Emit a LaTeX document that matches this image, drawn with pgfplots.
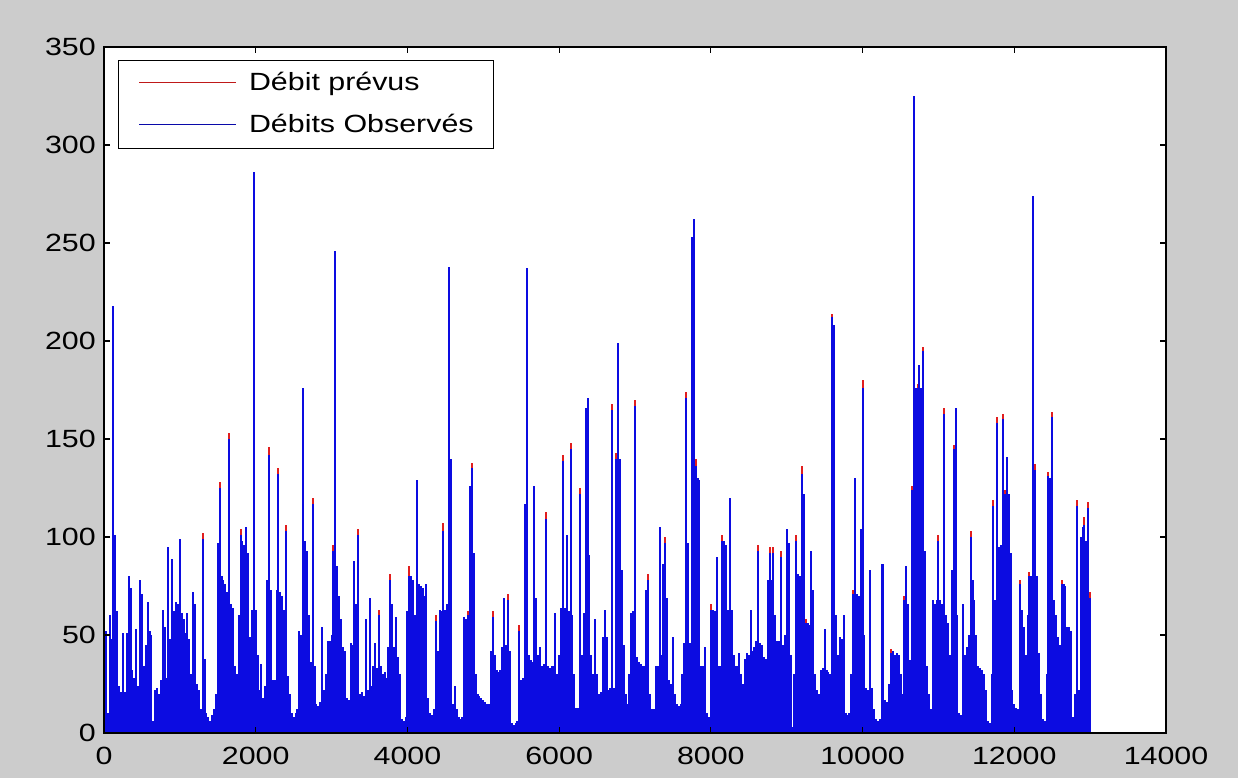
\documentclass[border=0pt]{standalone}
\usepackage{pgfplots}
\pgfplotsset{compat=1.18}
\usepackage{fontspec}
\setmainfont{Liberation Sans}[FakeStretch=1.22]
\newcommand\chartfont{\fontsize{25}{30}\selectfont}
\definecolor{figgray}{RGB}{204,204,204}
\definecolor{predcol}{RGB}{225,30,30}
\definecolor{obscol}{RGB}{12,12,225}
\begin{document}
\begin{tikzpicture}
% figure background
\fill[figgray] (-104bp,-45bp) rectangle (1134bp,733bp);
\begin{axis}[
  at={(0,0)}, anchor=south west,
  scale only axis, width=1062bp, height=686bp,
  xmin=0, xmax=14000, ymin=0, ymax=350,
  xtick={0,2000,...,14000}, ytick={0,50,...,350},
  scaled x ticks=false,
  /pgf/number format/assume math mode=true,
  /pgf/number format/set thousands separator={},
  tick align=inside, major tick length=6bp,
  every tick/.style={black, line width=1.1bp},
  axis line style={black, line width=1.2bp},
  axis background/.style={fill=white},
  axis on top,
  ticklabel style={font=\chartfont, inner sep=0pt},
  xticklabel style={yshift=-14bp},
  yticklabel style={xshift=-8bp},
  legend cell align=left,
  legend style={
    at={(0,1)}, anchor=north west, xshift=14bp, yshift=-13bp,
    draw=black, line width=1.1bp, fill=white,
    inner xsep=20bp, inner ysep=11bp,
    nodes={inner sep=0pt, font=\chartfont, text height=19bp, text depth=5bp},
    column sep=12bp, row sep=18bp,
  },
]
% forecast discharge (drawn first, shows where it exceeds the observed one)
\addplot[ycomb, draw=predcol, line width=2bp, mark=none,
  legend image code/.code={\draw[predcol!85!black, line width=1.5bp] (0bp,1bp) -- (97bp,1bp);}]
coordinates {
(0,94)(1300,102)(1525,128)(1650,153)(1800,104)(2175,146)(2300,135)(2400,106)
(2750,120)(3025,96)(3350,104)(3625,63)(3775,81)(4025,85)(4375,60)(4475,107)
(4800,62)(4850,138)(5125,62)(5325,71)(5475,55)(5825,113)(6050,142)(6150,148)
(6275,125)(6700,168)(6750,143)(7000,170)(7175,81)(7400,100)(7675,174)(7800,140)
(8000,66)(8150,101)(8625,96)(8775,95)(8825,95)(8925,93)(9125,101)(9200,136)
(9250,58)(9600,214)(9875,73)(10000,180)(10375,43)(10550,70)(10650,126)(10725,178)
(10800,197)(11000,101)(11075,166)(11200,147)(11425,103)(11725,119)(11775,161)
(11850,163)(11875,124)(12075,78)(12200,82)(12275,137)(12450,133)(12500,164)
(12625,78)(12825,119)(12925,110)(12975,118)(13000,72)
};
\addlegendentry{Débit prévus}
% observed discharge
\addplot[ycomb, draw=obscol, line width=2bp, mark=none,
  legend image code/.code={\draw[obscol!75!black, line width=1.5bp] (0bp,1bp) -- (97bp,1bp);}]
coordinates {
(0,90)(25,52)(50,10)(75,60)(100,48)(125,218)(150,101)(175,62)(200,24)(225,21)
(250,51)(275,21)(300,51)(325,80)(350,74)(375,32)(400,28)(425,53)(450,24)(475,78)
(500,71)(525,34)(550,45)(575,67)(600,52)(625,50)(650,6)(675,22)(700,23)(725,20)
(750,27)(775,63)(800,54)(825,28)(850,95)(875,48)(900,89)(925,62)(950,67)(975,66)
(1000,99)(1025,61)(1050,58)(1075,51)(1100,61)(1125,48)(1150,30)(1175,72)(1200,66)(1225,25)
(1250,22)(1275,12)(1300,99)(1325,38)(1350,10)(1375,8)(1400,6)(1425,9)(1450,12)(1475,20)
(1500,97)(1525,125)(1550,80)(1575,78)(1600,76)(1625,72)(1650,150)(1675,66)(1700,64)(1725,34)
(1750,30)(1775,60)(1800,101)(1825,98)(1850,96)(1875,105)(1900,92)(1925,49)(1950,63)(1975,286)
(2000,63)(2025,40)(2050,22)(2075,35)(2100,18)(2125,24)(2150,78)(2175,142)(2200,73)(2225,27)
(2250,27)(2275,73)(2300,132)(2325,72)(2350,70)(2375,63)(2400,103)(2425,29)(2450,20)(2475,10)
(2500,8)(2525,10)(2550,12)(2575,52)(2600,50)(2625,176)(2650,98)(2675,93)(2700,60)(2725,36)
(2750,117)(2775,34)(2800,15)(2825,14)(2850,16)(2875,54)(2900,22)(2925,30)(2950,47)(2975,47)
(3000,50)(3025,93)(3050,246)(3075,85)(3100,70)(3125,58)(3150,44)(3175,42)(3200,18)(3225,17)
(3250,46)(3275,45)(3300,88)(3325,66)(3350,101)(3375,20)(3400,21)(3425,19)(3450,58)(3475,22)
(3500,69)(3525,24)(3550,34)(3575,46)(3600,33)(3625,60)(3650,34)(3675,30)(3700,31)(3725,28)
(3750,44)(3775,78)(3800,66)(3825,44)(3850,59)(3875,39)(3900,30)(3925,7)(3950,6)(3975,8)
(4000,62)(4025,80)(4050,80)(4075,78)(4100,60)(4125,129)(4150,76)(4175,75)(4200,74)(4225,70)
(4250,76)(4275,18)(4300,10)(4325,9)(4350,12)(4375,57)(4400,42)(4425,63)(4450,62)(4475,103)
(4500,63)(4525,66)(4550,238)(4575,140)(4600,15)(4625,24)(4650,12)(4675,8)(4700,7)(4725,8)
(4750,59)(4775,58)(4800,60)(4825,126)(4850,135)(4875,92)(4900,30)(4925,20)(4950,19)(4975,18)
(5000,17)(5025,16)(5050,15)(5075,15)(5100,42)(5125,59)(5150,40)(5175,32)(5200,31)(5225,32)
(5250,44)(5275,69)(5300,45)(5325,68)(5350,42)(5375,5)(5400,4)(5425,5)(5450,6)(5475,52)
(5500,27)(5525,28)(5550,117)(5575,237)(5600,40)(5625,37)(5650,36)(5675,126)(5700,69)(5725,40)
(5750,44)(5775,34)(5800,35)(5825,109)(5850,34)(5875,33)(5900,34)(5925,34)(5950,61)(5975,30)
(6000,40)(6025,64)(6050,139)(6075,64)(6100,101)(6125,62)(6150,145)(6175,60)(6200,30)(6225,13)
(6250,13)(6275,122)(6300,40)(6325,61)(6350,166)(6375,171)(6400,91)(6425,40)(6450,30)(6475,58)
(6500,30)(6525,20)(6550,21)(6575,49)(6600,63)(6625,49)(6650,22)(6675,23)(6700,165)(6725,23)
(6750,140)(6775,199)(6800,140)(6825,83)(6850,45)(6875,20)(6900,15)(6925,30)(6950,61)(6975,62)
(7000,167)(7025,39)(7050,36)(7075,35)(7100,34)(7125,34)(7150,73)(7175,78)(7200,20)(7225,12)
(7250,12)(7275,34)(7300,34)(7325,105)(7350,40)(7375,86)(7400,97)(7425,69)(7450,27)(7475,25)
(7500,49)(7525,20)(7550,15)(7575,14)(7600,15)(7625,30)(7650,46)(7675,171)(7700,97)(7725,46)
(7750,253)(7775,262)(7800,136)(7825,130)(7850,129)(7875,34)(7900,34)(7925,44)(7950,10)(7975,8)
(8000,63)(8025,63)(8050,62)(8075,90)(8100,34)(8125,34)(8150,98)(8175,98)(8200,96)(8225,63)
(8250,120)(8275,63)(8300,40)(8325,34)(8350,34)(8375,41)(8400,30)(8425,25)(8450,38)(8475,41)
(8500,40)(8525,63)(8550,42)(8575,44)(8600,47)(8625,93)(8650,46)(8675,45)(8700,39)(8725,38)
(8750,78)(8775,92)(8800,78)(8825,92)(8850,60)(8875,47)(8900,47)(8925,90)(8950,45)(8975,50)
(9000,104)(9025,97)(9050,40)(9075,3)(9100,30)(9125,98)(9150,81)(9175,80)(9200,132)(9225,122)
(9250,56)(9275,56)(9300,55)(9325,93)(9350,73)(9375,30)(9400,22)(9425,20)(9450,32)(9475,33)
(9500,53)(9525,32)(9550,31)(9575,30)(9600,212)(9625,208)(9650,60)(9675,40)(9700,49)(9725,48)
(9750,60)(9775,10)(9800,9)(9825,10)(9850,30)(9875,71)(9900,130)(9925,71)(9950,70)(9975,104)
(10000,176)(10025,50)(10050,23)(10075,22)(10100,83)(10125,23)(10150,12)(10175,7)(10200,6)(10225,7)
(10250,86)(10275,86)(10300,17)(10325,16)(10350,25)(10375,41)(10400,42)(10425,40)(10450,41)(10475,40)
(10500,30)(10525,20)(10550,68)(10575,85)(10600,66)(10625,37)(10650,124)(10675,325)(10700,176)(10725,176)
(10750,188)(10775,176)(10800,195)(10825,93)(10850,34)(10875,20)(10900,12)(10925,68)(10950,66)(10975,68)
(11000,98)(11025,68)(11050,66)(11075,163)(11100,60)(11125,56)(11150,40)(11175,83)(11200,145)(11225,166)
(11250,60)(11275,10)(11300,9)(11325,66)(11350,40)(11375,44)(11400,50)(11425,100)(11450,78)(11475,68)
(11500,50)(11525,34)(11550,33)(11575,32)(11600,30)(11625,22)(11650,6)(11675,5)(11700,30)(11725,116)
(11750,68)(11775,158)(11800,95)(11825,96)(11850,160)(11875,122)(11900,141)(11925,122)(11950,92)(11975,22)
(12000,15)(12025,13)(12050,12)(12075,76)(12100,63)(12125,54)(12150,40)(12175,60)(12200,80)(12225,80)
(12250,274)(12275,134)(12300,80)(12325,41)(12350,20)(12375,7)(12400,6)(12425,30)(12450,131)(12475,130)
(12500,161)(12525,68)(12550,60)(12575,49)(12600,45)(12625,76)(12650,76)(12675,75)(12700,54)(12725,54)
(12750,52)(12775,8)(12800,20)(12825,116)(12850,22)(12875,100)(12900,105)(12925,106)(12950,98)(12975,115)(13000,69)
};
\addlegendentry{Débits Observés}
\end{axis}
\end{tikzpicture}
\end{document}
